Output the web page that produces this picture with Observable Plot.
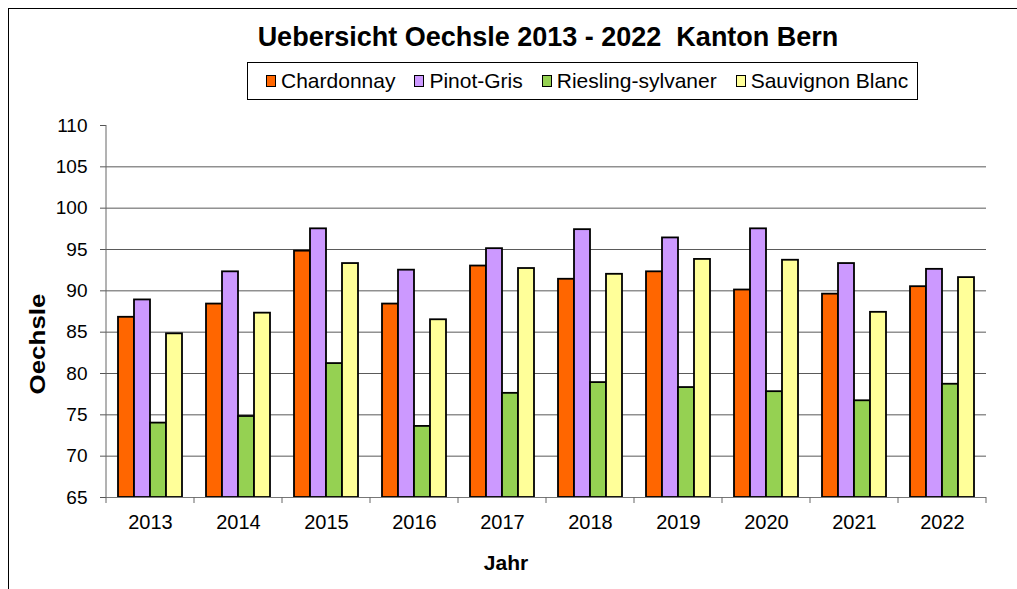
<!DOCTYPE html>
<html>
<head>
<meta charset="utf-8">
<script src="https://cdn.jsdelivr.net/npm/d3@7"></script>
<script src="https://cdn.jsdelivr.net/npm/@observablehq/plot@0.6"></script>
<style>
  html, body { margin: 0; padding: 0; background: #fff; overflow: hidden; }
  body { font-family: "Liberation Sans", Arial, sans-serif; }
  #wrap { position: relative; width: 1017px; height: 589px; }
  #frame { position: absolute; left: 8px; top: 8px; width: 1100px; height: 700px;
           border-left: 1.5px solid #000; border-top: 1.5px solid #000; box-sizing: border-box; }
  #header { position: relative; height: 110px; }
  #title { position: absolute; left: 0; width: 1096px; top: 22px; text-align: center;
           font-weight: bold; font-size: 27px; white-space: pre; color: #000; }
  #legend { position: absolute; left: 247px; top: 62px; width: 671px; height: 38px; box-sizing: border-box;
            border: 1px solid #000; display: flex; align-items: center; padding-left: 18px;
            font-size: 21px; color: #000; background: #fff; }
  .item { display: flex; align-items: center; margin-right: 19px; white-space: nowrap; }
  .sw { width: 8px; height: 10px; border: 1.5px solid #000; margin-right: 5px; }
  #chart { position: absolute; left: 0; top: 110px; }
  #ylab { position: absolute; left: 38px; top: 344px; transform: translate(-50%, -50%) rotate(-90deg) scaleX(1.18);
          font-weight: bold; font-size: 22px; white-space: nowrap; }
  #xlab { position: absolute; left: 506px; top: 563px; transform: translate(-50%, -50%);
          font-weight: bold; font-size: 21px; }
</style>
</head>
<body>
<div id="wrap">
  <div id="frame"></div>
  <div id="header">
    <div id="title"></div>
    <div id="legend"></div>
  </div>
  <div id="chart"></div>
  <div id="ylab">Oechsle</div>
  <div id="xlab">Jahr</div>
</div>
<script>
// ---- data ----
const years = ["2013","2014","2015","2016","2017","2018","2019","2020","2021","2022"];
const varieties = ["Chardonnay","Pinot-Gris","Riesling-sylvaner","Sauvignon Blanc"];
const chardonnay = [86.8, 88.4, 94.8, 88.4, 93.0, 91.4, 92.3, 90.1, 89.6, 90.5];
const pinotGris  = [88.9, 92.3, 97.5, 92.5, 95.1, 97.4, 96.4, 97.5, 93.3, 92.6];
const riesling   = [74.0, 74.8, 81.2, 73.6, 77.6, 78.9, 78.3, 77.8, 76.7, 78.7];
const sauvignon  = [84.8, 87.3, 93.3, 86.5, 92.7, 92.0, 93.8, 93.7, 87.4, 91.6];
const yTicks = [65, 70, 75, 80, 85, 90, 95, 100, 105, 110];
const colors = ["#FF6600", "#CC99FF", "#95D152", "#FFFF99"];
const titleText = "Uebersicht Oechsle 2013 - 2022  Kanton Bern";

const series = [chardonnay, pinotGris, riesling, sauvignon];
const data = years.flatMap((yr, i) => varieties.map((v, j) => ({year: yr, variety: v, value: series[j][i]})));
const yMin = yTicks[0], yMax = yTicks[yTicks.length - 1];

document.getElementById("title").textContent = titleText;
const legend = document.getElementById("legend");
varieties.forEach((v, j) => {
  const it = document.createElement("div"); it.className = "item";
  const sw = document.createElement("div"); sw.className = "sw"; sw.style.background = colors[j];
  const tx = document.createElement("span"); tx.textContent = v;
  it.appendChild(sw); it.appendChild(tx); legend.appendChild(it);
});

const plot = Plot.plot({
  width: 1017, height: 479,
  marginLeft: 105, marginRight: 31, marginTop: 15, marginBottom: 92,
  style: {fontFamily: "'Liberation Sans', Arial, sans-serif", fontSize: "19px", color: "#000", background: "transparent"},
  facet: {data, x: "year"},
  fx: {domain: years, paddingInner: 0, paddingOuter: 0, label: null, axis: null},
  x: {domain: varieties, paddingInner: 0, paddingOuter: 0.745, axis: null},
  y: {domain: [yMin, yMax], label: null, axis: null},
  color: {domain: varieties, range: colors},
  marks: [
    Plot.gridY(yTicks.filter(t => t > yMin && t < yMax), {stroke: "#5a5a5a", strokeOpacity: 1, strokeWidth: 1}),
    Plot.barY(data, {x: "variety", y1: yMin, y2: "value", fill: "variety", stroke: "#000", strokeWidth: 1.8}),
    Plot.ruleY([yMin], {stroke: "#777", strokeWidth: 1}),
    Plot.axisY({ticks: yTicks, tickSize: 6, tickPadding: 13, stroke: "#555", fontSize: 19, label: null}),
    Plot.axisFx({anchor: "bottom", tickSize: 0, tickPadding: 17, fontSize: 20, label: null})
  ]
});
document.getElementById("chart").appendChild(plot);

// left axis line and category boundary ticks, from the plot's own scales
const fx = plot.scale("fx"), y = plot.scale("y");
const svg = d3.select(plot);
const y0 = y.apply(yMin), y1 = y.apply(yMax);
const x0 = fx.apply(years[0]);
svg.append("line").attr("x1", x0).attr("x2", x0).attr("y1", y1).attr("y2", y0).attr("stroke", "#666");
const bounds = years.map(d => fx.apply(d)).concat([fx.apply(years[years.length - 1]) + fx.bandwidth]);
svg.append("g").selectAll("line").data(bounds).join("line")
  .attr("x1", d => d).attr("x2", d => d).attr("y1", y0).attr("y2", y0 + 6).attr("stroke", "#666");
</script>
</body>
</html>
